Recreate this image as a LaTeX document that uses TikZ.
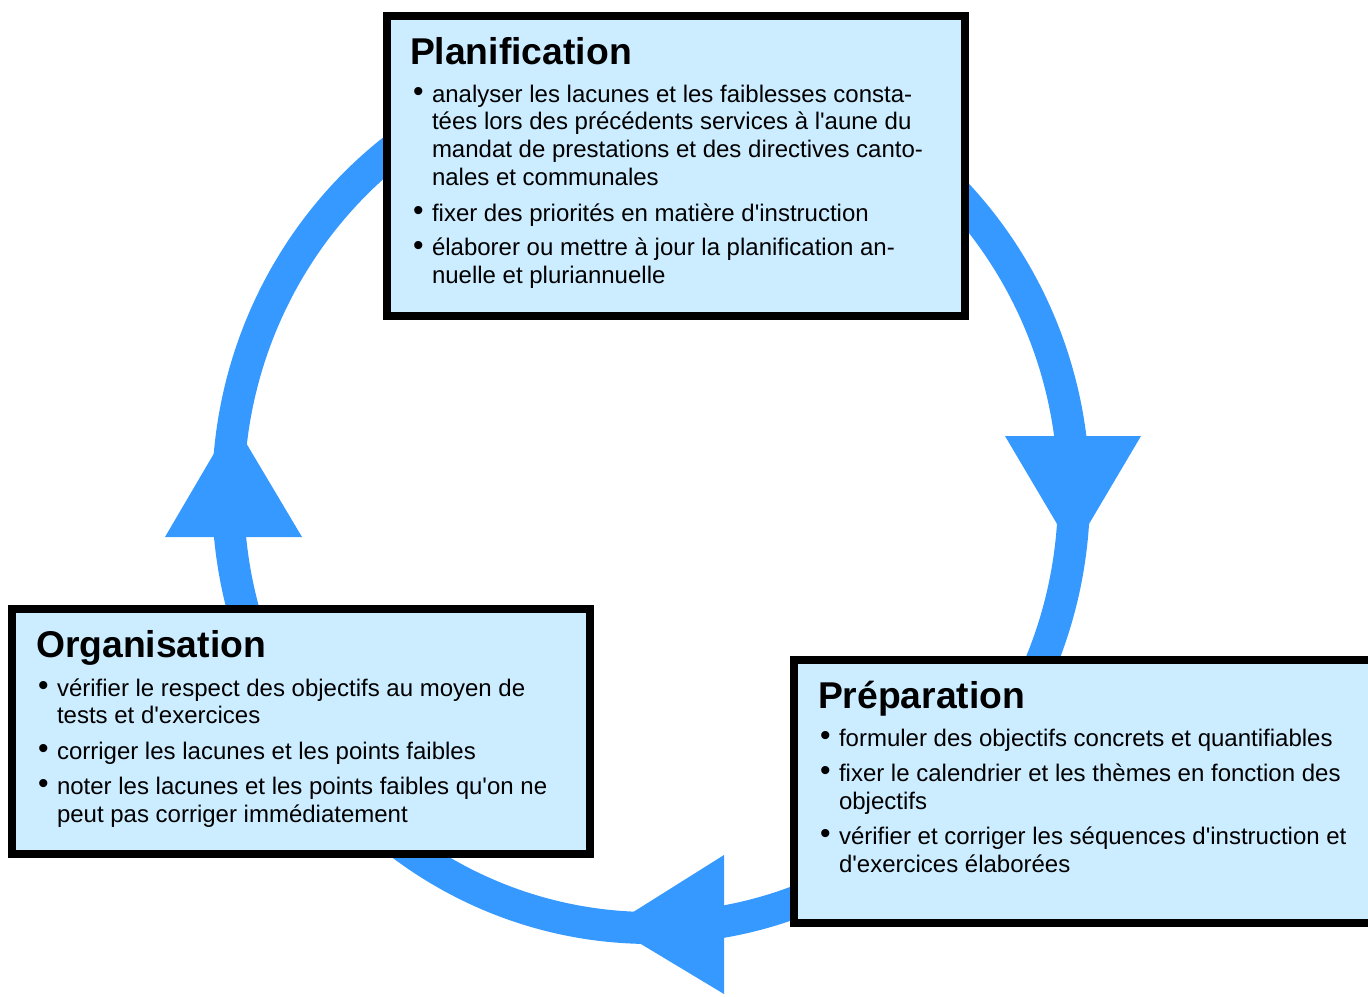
\documentclass[tikz,border=0pt]{standalone}
\usepackage{fontspec}
\newfontfamily\lsans{Liberation Sans}
\definecolor{boxfill}{RGB}{204,236,255}
\definecolor{ringblue}{RGB}{54,153,255}
\newcommand\bi{\makebox[17.5pt][l]{\hspace*{-1.5pt}\raisebox{0.5pt}{\fontsize{30}{30}\selectfont\textbullet}}}
\tikzset{
  stagebox/.style={draw=black, line width=8pt, fill=boxfill, inner sep=0pt, outer sep=0pt, anchor=north west},
  boxtitle/.style={anchor=base west, inner sep=0pt, outer sep=0pt, font=\lsans\bfseries\fontsize{37.3}{40}\selectfont},
  boxbody/.style={anchor=base west, inner sep=0pt, outer sep=0pt, font=\lsans\fontsize{24}{27.9}\selectfont},
  ring/.style={draw=ringblue, line width=32pt},
  ringhead/.style={fill=ringblue},
}
\begin{document}
\begin{tikzpicture}[x=1pt,y=-1pt]
\useasboundingbox (0,0) rectangle (1368,996);
\clip (0,0) rectangle (1368,996);

% ring
\coordinate (ringc) at (651,494);
\draw[ring] (ringc) ellipse [x radius=423pt, y radius=434pt];

% arrow heads
\coordinate (rb1) at (1005,436);
\coordinate (rb2) at (1141,436);
\coordinate (rtip) at (1073,551);
\fill[ringhead] (rb1) -- (rb2) -- (rtip) -- cycle;

\coordinate (bb1) at (724,855);
\coordinate (bb2) at (724,994);
\coordinate (btip) at (611,926);
\fill[ringhead] (bb1) -- (bb2) -- (btip) -- cycle;

\coordinate (lb1) at (165,537);
\coordinate (lb2) at (302,537);
\coordinate (ltip) at (233,421);
\fill[ringhead] (lb1) -- (lb2) -- (ltip) -- cycle;

% Planification
\node[stagebox, minimum width=578pt, minimum height=300pt] (plan) at (387,16) {};
\node[boxtitle] (plantitle) at (410,64) {Planification};
\node[boxbody] (planbody) at (414.5,102) {\begin{tabular}[t]{@{}l@{}l@{}}
\bi & analyser les lacunes et les faiblesses consta-\\
 & tées lors des précédents services à l'aune du\\
 & mandat de prestations et des directives canto-\\
 & nales et communales\\[7.6pt]
\bi & fixer des priorités en matière d'instruction\\[6.6pt]
\bi & élaborer ou mettre à jour la planification an-\\
 & nuelle et pluriannuelle
\end{tabular}};

% Organisation
\node[stagebox, minimum width=578pt, minimum height=245pt] (orga) at (12,609) {};
\node[boxtitle] (orgatitle) at (36,657) {Organisation};
\node[boxbody] (orgabody) at (39.5,696) {\begin{tabular}[t]{@{}l@{}l@{}}
\bi & vérifier le respect des objectifs au moyen de\\
 & tests et d'exercices\\[7.2pt]
\bi & corriger les lacunes et les points faibles\\[7.2pt]
\bi & noter les lacunes et les points faibles qu'on ne\\
 & peut pas corriger immédiatement
\end{tabular}};

% Preparation
\node[stagebox, minimum width=582pt, minimum height=263pt] (prep) at (794,660) {};
\node[boxtitle] (preptitle) at (818,708) {Préparation};
\node[boxbody] (prepbody) at (821.5,746) {\begin{tabular}[t]{@{}l@{}l@{}}
\bi & formuler des objectifs concrets et quantifiables\\[7.2pt]
\bi & fixer le calendrier et les thèmes en fonction des\\
 & objectifs\\[7.2pt]
\bi & vérifier et corriger les séquences d'instruction et\\
 & d'exercices élaborées
\end{tabular}};
\end{tikzpicture}
\end{document}
